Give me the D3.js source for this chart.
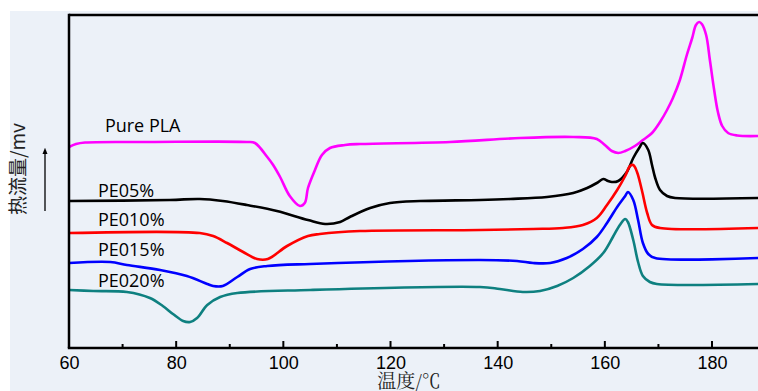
<!DOCTYPE html>
<html>
<head>
<meta charset="utf-8">
<script src="https://cdn.jsdelivr.net/npm/d3@7"></script>
<style>
  body { margin: 0; background: #fff; }
  svg { display: block; }
</style>
</head>
<body>
<svg id="chart" width="758" height="391"></svg>
<script>
// temperature (°C) and heat flow (arbitrary units, curves are offset)
var pureTemp = [60.0, 61.3, 63.0, 75.1, 93.2, 94.7, 97.0, 98.1, 99.4, 101.2, 103.1, 104.0, 104.6, 105.9, 107.2, 108.7, 111.5, 114.3, 131.1, 144.2, 154.1, 158.5, 160.0, 161.3, 162.5, 163.8, 165.6, 167.1, 168.8, 170.3, 171.6, 172.7, 174.0, 175.3, 176.3, 177.0, 177.6, 178.1, 178.9, 179.6, 180.4, 181.1, 181.9, 183.0, 184.7, 188.6];
var pureFlow = [20.1, 20.4, 20.55, 20.6, 20.6, 20.5, 19.1, 18.3, 17.1, 15.2, 14.2, 14.5, 16.0, 17.8, 19.3, 20.0, 20.3, 20.4, 20.6, 21.0, 21.1, 20.9, 20.3, 19.7, 19.5, 19.7, 20.2, 20.8, 21.5, 22.6, 23.8, 25.0, 26.8, 29.3, 31.0, 32.3, 32.6, 32.4, 31.3, 28.8, 25.8, 23.6, 22.2, 21.5, 21.25, 21.2];

var pe05Temp = [60.0, 78.8, 84.4, 88.7, 93.2, 98.8, 104.6, 107.8, 110.6, 112.4, 116.2, 119.9, 125.5, 136.7, 142.3, 149.2, 154.1, 156.7, 158.5, 159.7, 160.6, 161.3, 162.5, 164.1, 165.3, 166.4, 167.1, 168.1, 168.8, 169.4, 170.3, 171.6, 173.1, 188.6];
var pe05Flow = [14.7, 14.8, 14.9, 14.7, 14.3, 13.7, 12.8, 12.4, 12.6, 13.1, 14.0, 14.5, 14.7, 14.8, 14.9, 15.1, 15.5, 16.0, 16.5, 16.9, 16.7, 16.6, 16.7, 17.6, 19.0, 20.0, 20.5, 19.8, 18.3, 17.0, 15.8, 15.2, 15.0, 15.0];

var pe010Temp = [60.0, 84.4, 86.9, 89.5, 92.5, 95.1, 97.1, 100.7, 104.6, 106.8, 114.3, 136.7, 146.6, 152.2, 155.9, 158.5, 160.4, 162.3, 163.8, 164.7, 165.3, 166.0, 166.9, 167.9, 168.8, 170.3, 188.6];
var pe010Flow = [11.5, 11.5, 11.2, 10.5, 9.6, 8.9, 8.9, 10.2, 11.2, 11.4, 11.7, 11.8, 11.9, 12.0, 12.3, 13.0, 14.3, 15.8, 17.2, 18.2, 18.3, 17.6, 15.8, 13.5, 12.3, 12.0, 12.0];

var pe015Temp = [60.0, 67.7, 70.8, 77.0, 82.0, 85.8, 86.9, 88.7, 91.4, 93.8, 97.0, 105.0, 136.7, 143.6, 146.6, 149.8, 152.9, 155.9, 158.5, 160.4, 162.3, 163.8, 164.3, 165.3, 166.2, 167.1, 168.1, 169.4, 188.6];
var pe015Flow = [8.5, 8.6, 8.3, 7.8, 7.2, 6.4, 6.2, 6.2, 7.1, 7.9, 8.2, 8.4, 8.8, 8.7, 8.5, 8.5, 9.0, 9.9, 11.1, 12.5, 14.1, 15.2, 15.6, 14.8, 12.8, 10.5, 9.4, 9.0, 9.0];

var pe020Temp = [60.0, 64.5, 70.8, 75.1, 77.5, 79.4, 81.3, 82.6, 83.9, 85.8, 88.2, 91.4, 105.0, 136.7, 140.4, 144.7, 147.9, 151.1, 154.1, 157.2, 159.7, 161.5, 162.8, 163.8, 164.3, 165.3, 166.2, 167.1, 168.4, 169.7, 188.6];
var pe020Flow = [5.8, 5.7, 5.6, 5.0, 4.2, 3.4, 2.7, 2.6, 3.0, 4.3, 5.1, 5.5, 5.8, 6.1, 5.9, 5.6, 5.7, 6.2, 7.0, 8.2, 9.5, 11.1, 12.3, 12.9, 12.6, 10.8, 8.6, 7.2, 6.6, 6.4, 6.4];

var seriesNames = ["Pure PLA", "PE05%", "PE010%", "PE015%", "PE020%"];
var seriesColors = ["#ff00ff", "#000000", "#ff0000", "#0000ff", "#0e8080"];
var xTicks = [60, 80, 100, 120, 140, 160, 180];

var temps = [pureTemp, pe05Temp, pe010Temp, pe015Temp, pe020Temp];
var flows = [pureFlow, pe05Flow, pe010Flow, pe015Flow, pe020Flow];
// label anchor: temperature of text start, heat flow of text middle
var labelTemp = [66.7, 65.4, 65.4, 65.4, 65.4];
var labelFlow = [22.2, 15.7, 12.8, 9.8, 6.7];

var svg = d3.select("#chart");
var margin = {top: 15, right: 0, bottom: 43, left: 69};
var width = 758 - margin.left - margin.right,
    height = 391 - margin.top - margin.bottom;

svg.append("rect")
  .attr("x", 10).attr("y", 11)
  .attr("width", 748).attr("height", 380)
  .attr("fill", "#ecf1f8");

var x = d3.scaleLinear().domain([60, 190]).range([0, (190 - 60) / 20 * 107.17]);
var y = d3.scaleLinear().domain([0, 33.3]).range([height, 0]);

var g = svg.append("g").attr("transform", "translate(" + margin.left + "," + margin.top + ")");

var line = d3.line()
  .x(function(d) { return x(d[0]); })
  .y(function(d) { return y(d[1]); })
  .curve(d3.curveCatmullRom.alpha(0.5));

temps.forEach(function(t, i) {
  var data = t.map(function(v, j) { return [v, flows[i][j]]; });
  g.append("path")
    .datum(data)
    .attr("fill", "none")
    .attr("stroke", seriesColors[i])
    .attr("stroke-width", 2.6)
    .attr("stroke-linejoin", "round")
    .attr("d", line);

  g.append("text")
    .attr("x", x(labelTemp[i]))
    .attr("y", y(labelFlow[i]))
    .attr("dy", "0.35em")
    .attr("font-family", "'Open Sans', 'Liberation Sans', sans-serif")
    .attr("font-size", 18)
    .attr("fill", "#000")
    .text(seriesNames[i]);
});

// frame: top and left lines
g.append("line")
  .attr("x1", 0).attr("x2", width)
  .attr("y1", 0).attr("y2", 0)
  .attr("stroke", "#000").attr("stroke-width", 2.5);
g.append("line")
  .attr("x1", 0).attr("x2", 0)
  .attr("y1", -1.2).attr("y2", height)
  .attr("stroke", "#000").attr("stroke-width", 2.5);

// x axis with inward ticks
var xAxis = d3.axisBottom(x).tickValues(xTicks).tickSize(0).tickPadding(8);
var ax = g.append("g")
  .attr("transform", "translate(0," + height + ")")
  .call(xAxis);
ax.select(".domain").remove();
ax.selectAll("text")
  .attr("font-family", "'Liberation Sans', sans-serif")
  .attr("font-size", 18)
  .attr("fill", "#000");

var minor = d3.range(60, 191, 10);
ax.selectAll(".tk").data(minor).enter().append("line")
  .attr("x1", function(d) { return x(d); })
  .attr("x2", function(d) { return x(d); })
  .attr("y1", 0)
  .attr("y2", function(d) { return d % 20 === 0 ? -7 : -4; })
  .attr("stroke", "#000").attr("stroke-width", 2);
ax.append("line")
  .attr("x1", -1.2).attr("x2", width)
  .attr("y1", 0).attr("y2", 0)
  .attr("stroke", "#000").attr("stroke-width", 2.5);

svg.append("text")
  .attr("x", 409).attr("y", 388)
  .attr("text-anchor", "middle")
  .attr("font-family", "'Noto Serif CJK SC', 'Noto Sans CJK SC', serif")
  .attr("font-size", 19)
  .attr("fill", "#222")
  .text("温度/℃");

svg.append("text")
  .attr("transform", "translate(25,169) rotate(-90)")
  .attr("text-anchor", "middle")
  .attr("font-family", "'Noto Sans CJK SC', sans-serif")
  .attr("font-size", 19)
  .attr("fill", "#222")
  .text("热流量/mv");

// arrow
svg.append("defs").append("marker")
  .attr("id", "arr")
  .attr("viewBox", "0 0 10 10")
  .attr("refX", 5).attr("refY", 5)
  .attr("markerWidth", 5).attr("markerHeight", 6)
  .attr("orient", "auto")
  .append("path").attr("d", "M0,1L10,5L0,9Z").attr("fill", "#000");
svg.append("line")
  .attr("x1", 45).attr("x2", 45)
  .attr("y1", 211).attr("y2", 151)
  .attr("stroke", "#000").attr("stroke-width", 1.3)
  .attr("marker-end", "url(#arr)");
</script>
</body>
</html>
